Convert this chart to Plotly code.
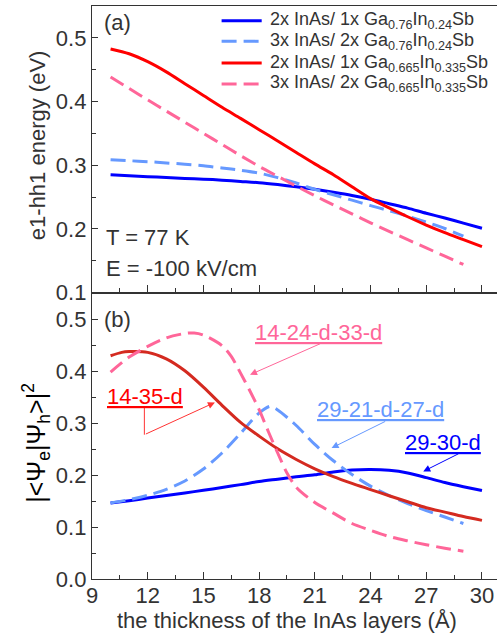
import plotly.graph_objects as go

# ---------------- data ----------------
# (a) e1-hh1 transition energy (eV) vs InAs layer thickness (Å)
thick_solid = [10, 11, 12, 13, 14, 15, 16, 17, 18, 19, 20, 21, 22, 23, 24, 25, 26, 27, 28, 29, 30]
thick_dash = [10, 11, 12, 13, 14, 15, 16, 17, 18, 19, 20, 21, 22, 23, 24, 25, 26, 27, 28, 29]

e_2x1_076 = [0.285, 0.2835, 0.282, 0.2805, 0.279, 0.278, 0.2765, 0.2745, 0.2725, 0.2695, 0.266,
             0.262, 0.2575, 0.2525, 0.2465, 0.2395, 0.2325, 0.2245, 0.217, 0.209, 0.201]
e_3x2_076 = [0.3085, 0.307, 0.3055, 0.3035, 0.3015, 0.299, 0.2955, 0.292, 0.2875, 0.2805, 0.272,
             0.262, 0.2535, 0.245, 0.2365, 0.2285, 0.22, 0.2105, 0.2005, 0.1885]
e_2x1_0665 = [0.4825, 0.475, 0.4625, 0.4465, 0.428, 0.4095, 0.391, 0.3735, 0.3557, 0.338, 0.32,
              0.302, 0.285, 0.266, 0.2475, 0.233, 0.219, 0.206, 0.194, 0.183, 0.172]
e_3x2_0665 = [0.4385, 0.4205, 0.4025, 0.385, 0.3675, 0.35, 0.3325, 0.315, 0.298, 0.2825, 0.267,
              0.252, 0.2375, 0.2235, 0.2095, 0.196, 0.183, 0.17, 0.157, 0.144]

# (b) e-h wavefunction overlap |<psi_e|psi_h>|^2
ov_29_30 = [0.1465, 0.151, 0.156, 0.161, 0.166, 0.171, 0.1765, 0.182, 0.188, 0.1925, 0.197,
            0.201, 0.2065, 0.21, 0.211, 0.2095, 0.2045, 0.1955, 0.186, 0.178, 0.1705]
thick_29_21 = [10, 11, 12, 13, 14, 15, 16, 17, 18, 18.6, 19, 20, 21, 22, 23, 24, 25, 26, 27, 28, 29]
ov_29_21 = [0.1465, 0.153, 0.1615, 0.173, 0.189, 0.212, 0.243, 0.281, 0.32, 0.333, 0.326, 0.296,
            0.2595, 0.228, 0.2015, 0.179, 0.161, 0.1455, 0.132, 0.1195, 0.107]
thick_14_35 = [10, 10.6, 11, 12, 13, 14, 15, 16, 17, 18, 19, 20, 21, 22, 23, 24, 25, 26, 27, 28, 29, 30]
ov_14_35 = [0.4305, 0.437, 0.4385, 0.437, 0.4245, 0.4015, 0.37, 0.335, 0.302, 0.2755, 0.251,
            0.2305, 0.2125, 0.1975, 0.1845, 0.1725, 0.1605, 0.149, 0.1375, 0.129, 0.1205, 0.113]
thick_14_24 = [10, 11, 12, 13, 14, 14.5, 15, 16, 16.5, 17, 17.5, 18, 18.5, 19, 19.5, 20, 21, 22,
               23, 24, 25, 26, 27, 28, 29]
ov_14_24 = [0.399, 0.428, 0.4485, 0.465, 0.4735, 0.4745, 0.4705, 0.45, 0.4293, 0.397, 0.363,
            0.3265, 0.284, 0.243, 0.2044, 0.177, 0.1475, 0.127, 0.107, 0.094, 0.082, 0.0735,
            0.066, 0.0595, 0.0535]

legend_labels = [
    "2x InAs/ 1x Ga<sub>0.76</sub>In<sub>0.24</sub>Sb",
    "3x InAs/ 2x Ga<sub>0.76</sub>In<sub>0.24</sub>Sb",
    "2x InAs/ 1x Ga<sub>0.665</sub>In<sub>0.335</sub>Sb",
    "3x InAs/ 2x Ga<sub>0.665</sub>In<sub>0.335</sub>Sb",
]

# ---------------- styling ----------------
FONT = "Liberation Sans, Arial, sans-serif"
INK = "#333333"
BLUE = "#0000ff"
LBLUE = "#6699ff"
RED = "#ff0000"
DRED = "#d42a20"
PINK = "#ff6699"
DASH = "15px,7px"
LW = 3

fig = go.Figure()

def add(x, y, color, dash, xa, ya):
    fig.add_trace(go.Scatter(
        x=x, y=y, mode="lines", xaxis=xa, yaxis=ya, showlegend=False,
        line=dict(color=color, width=LW, dash=dash, shape="spline", smoothing=0.8),
    ))

# panel (a)
add(thick_solid, e_2x1_076, BLUE, "solid", "x", "y")
add(thick_dash, e_3x2_076, LBLUE, DASH, "x", "y")
add(thick_solid, e_2x1_0665, RED, "solid", "x", "y")
add(thick_dash, e_3x2_0665, PINK, DASH, "x", "y")
# panel (b)
add(thick_solid, ov_29_30, BLUE, "solid", "x2", "y2")
add(thick_29_21, ov_29_21, LBLUE, DASH, "x2", "y2")
add(thick_14_35, ov_14_35, DRED, "solid", "x2", "y2")
add(thick_14_24, ov_14_24, PINK, DASH, "x2", "y2")

axis_common = dict(
    showline=True, linecolor=INK, linewidth=1.3,
    ticks="inside", tickcolor=INK, tickwidth=1.3,
    showgrid=False, zeroline=False,
    tickfont=dict(family=FONT, size=22, color=INK),
)
xcommon = dict(axis_common, range=[9, 30.81], tick0=9, dtick=3, ticklen=7, mirror=True,
               minor=dict(ticks="inside", tick0=9, dtick=1.5, ticklen=4, tickcolor=INK, tickwidth=1.3))
ycommon = dict(axis_common, tick0=0, dtick=0.1, ticklen=6, tickformat=".1f", mirror=False,
               minor=dict(ticks="inside", dtick=0.05, ticklen=4, tickcolor=INK, tickwidth=1.3))

fig.update_layout(
    width=497, height=637,
    margin=dict(l=92, r=0, t=6, b=58),
    paper_bgcolor="white", plot_bgcolor="white",
    font=dict(family=FONT, color=INK),
    xaxis=dict(xcommon, domain=[0, 1], anchor="y", showticklabels=False),
    yaxis=dict(ycommon, domain=[0.5, 1], anchor="x", range=[0.1, 0.55]),
    xaxis2=dict(xcommon, domain=[0, 1], anchor="y2", ticklabelstandoff=-4),
    yaxis2=dict(ycommon, domain=[0, 0.5], anchor="x2", range=[0, 0.5525]),
)

ann = []
# axis titles
ann.append(dict(text="e1-hh1 energy (eV)", xref="paper", yref="paper", x=-0.136, y=0.757,
                textangle=-90, showarrow=False, xanchor="center", yanchor="middle",
                font=dict(size=22, color=INK)))
ann.append(dict(text="|&lt;Ψ<sub>e</sub>|Ψ<sub>h</sub>&gt;|<sup>2</sup>", xref="paper", yref="paper",
                x=-0.138, y=0.238, textangle=-90, showarrow=False, xanchor="center",
                yanchor="middle", font=dict(size=25, color="#000000")))
ann.append(dict(text="the thickness of the InAs layers (Å)", xref="x2", yref="paper", x=19.5,
                y=-0.0716, showarrow=False, xanchor="center", yanchor="middle",
                font=dict(size=22, color=INK)))

# panel labels and conditions
ann.append(dict(text="(a)", xref="x", yref="y", x=9.54, y=0.524, showarrow=False,
                xanchor="left", yanchor="middle", font=dict(size=22, color=INK)))
ann.append(dict(text="T = 77 K", xref="x", yref="y", x=9.65, y=0.1864, showarrow=False,
                xanchor="left", yanchor="middle", font=dict(size=22, color=INK)))
ann.append(dict(text="E = -100 kV/cm", xref="x", yref="y", x=9.65, y=0.1377, showarrow=False,
                xanchor="left", yanchor="middle", font=dict(size=22, color=INK)))
ann.append(dict(text="(b)", xref="x2", yref="y2", x=9.54, y=0.5, showarrow=False,
                xanchor="left", yanchor="middle", font=dict(size=22, color=INK)))

# legend of panel (a)
legend_colors = [BLUE, LBLUE, RED, PINK]
legend_dashes = ["solid", DASH, "solid", DASH]
legend_rows = [0.9743, 0.9384, 0.9005, 0.8639]
shapes = []
for lab, col, dsh, yr in zip(legend_labels, legend_colors, legend_dashes, legend_rows):
    shapes.append(dict(type="line", xref="paper", yref="paper", x0=0.320, x1=0.419, y0=yr, y1=yr,
                       line=dict(color=col, width=LW, dash=dsh)))
    ann.append(dict(text=lab, xref="paper", yref="paper", x=0.434, y=yr, showarrow=False,
                    xanchor="left", yanchor="middle", font=dict(size=18, color=INK)))

# structure labels in panel (b)
labels_b = [
    ("14-24-d-33-d", PINK, 17.69, 0.475),
    ("14-35-d", RED, 9.70, 0.3525),
    ("29-21-d-27-d", LBLUE, 21.01, 0.327),
    ("29-30-d", BLUE, 25.76, 0.2628),
]
for txt, col, xx, yy in labels_b:
    ann.append(dict(text="<u>" + txt + "</u>", xref="x2", yref="y2", x=xx, y=yy, showarrow=False,
                    xanchor="left", yanchor="middle", font=dict(size=22, color=col)))

# pointer arrows from the labels to their curves
arrows = [
    (21.37, 0.455, 17.51, 0.394, PINK),
    (11.82, 0.2783, 15.62, 0.3405, "#ff3333"),
    (24.87, 0.3053, 21.90, 0.2526, LBLUE),
    (28.82, 0.243, 26.84, 0.2075, BLUE),
]
for ax0, ay0, hx, hy, col in arrows:
    ann.append(dict(text="", xref="x2", yref="y2", axref="x2", ayref="y2", x=hx, y=hy, ax=ax0,
                    ay=ay0, showarrow=True, arrowhead=2, arrowsize=1.4, arrowwidth=1,
                    arrowcolor=col))
shapes.append(dict(type="line", xref="x2", yref="y2", x0=11.82, x1=11.82, y0=0.3317, y1=0.2783,
                   line=dict(color="#ff3333", width=1)))

fig.update_layout(annotations=ann, shapes=shapes)
fig.write_html("out.html")
